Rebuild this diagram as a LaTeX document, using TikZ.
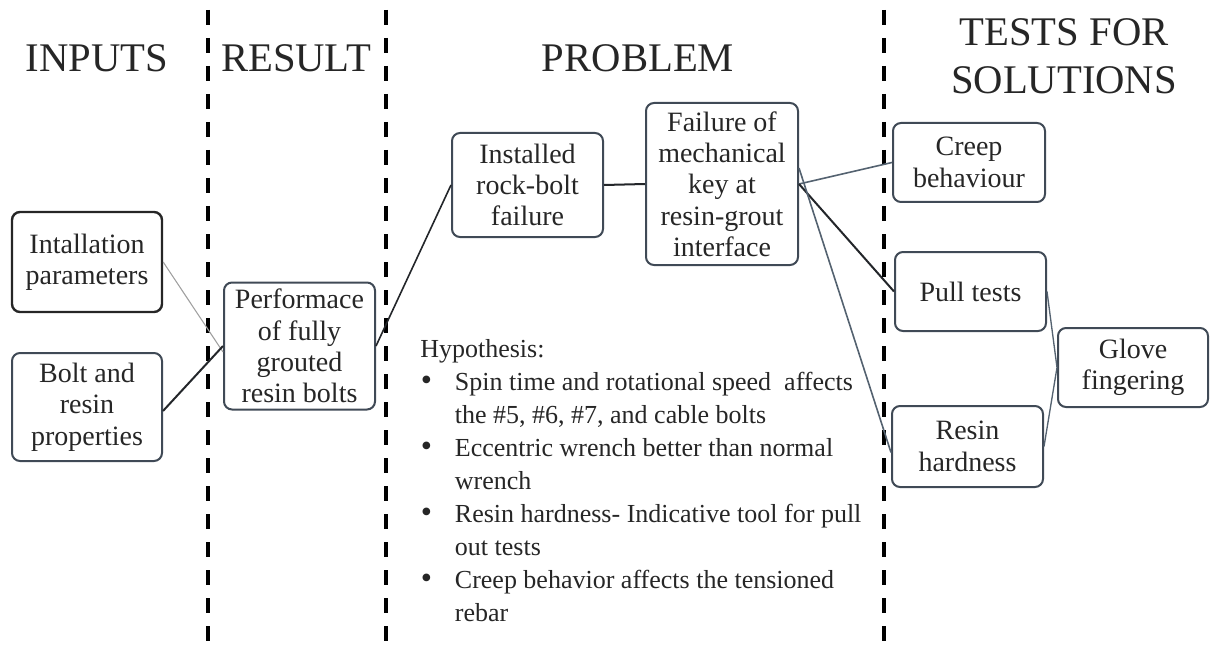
\documentclass[tikz,border=0pt]{standalone}
\usepackage{fontspec}
\setmainfont{Liberation Serif}
\usepackage{tikz}

\definecolor{boxline}{RGB}{64,74,86}
\definecolor{linkdark}{RGB}{35,38,42}
\definecolor{linkslate}{RGB}{84,98,112}
\newcommand{\hypbul}{\makebox[26pt][l]{\hspace{0.5pt}\raisebox{-0.5pt}{\fontsize{24}{24}\selectfont\textbullet}}}
\newcommand{\hypind}{\hspace*{26pt}}

\begin{document}
\begin{tikzpicture}[x=0.75pt,y=0.75pt,yscale=-1,xscale=1,
  stagebox/.style={draw=boxline, line width=1.5pt, rounded corners=6pt, align=center, inner sep=0pt, text=black!85, font=\fontsize{21}{23.5}\selectfont},
  header/.style={align=center, text=black!85, font=\fontsize{30.5}{36}\selectfont},
  divider/.style={line width=2.6pt, dash pattern=on 11.25pt off 9.75pt},
  linkthin/.style={draw=gray!75, line width=0.8pt},
  linkbold/.style={draw=linkdark, line width=1.5pt},
  linkmid/.style={draw=linkslate, line width=1.2pt}]
\useasboundingbox (0,0) rectangle (1210,649);

%Shape: Dividers
\draw [divider] (208,10) -- (208,649);
\draw [divider] (386,10) -- (386,649);
\draw [divider] (884,10) -- (884,649);

% Text Node
\node (hinputs) [header] at (97,58) {INPUTS};
% Text Node
\node (hresult) [header] at (296,58) {RESULT};
% Text Node
\node (hproblem) [header] at (638,58) {PROBLEM};
% Text Node
\node (htests) [header] at (1064,56) {TESTS FOR\\SOLUTIONS};

%Shape: Rounded Rect
\node (param) [stagebox, draw=black!85, line width=1.8pt, minimum width=112.5pt, minimum height=75pt] at (87,262) {Intallation\\parameters};
%Shape: Rounded Rect
\node (bolt) [stagebox, minimum width=112.5pt, minimum height=81pt] at (87,407) {Bolt and\\resin\\properties};
%Shape: Rounded Rect
\node (perf) [stagebox, minimum width=113.25pt, minimum height=95.25pt] at (299.5,346) {Performace\\of fully\\grouted\\resin bolts};
%Shape: Rounded Rect
\node (inst) [stagebox, minimum width=113.25pt, minimum height=78pt] at (527.5,185) {Installed\\rock-bolt\\failure};
%Shape: Rounded Rect
\node (fail) [stagebox, minimum width=114pt, minimum height=121.5pt] at (722,184) {Failure of\\mechanical\\key at\\resin-grout\\interface};
%Shape: Rounded Rect
\node (creep) [stagebox, minimum width=114pt, minimum height=59.25pt] at (969,162.5) {Creep\\behaviour};
%Shape: Rounded Rect
\node (pull) [stagebox, minimum width=113.25pt, minimum height=59.25pt] at (970.5,291.5) {Pull tests};
%Shape: Rounded Rect
\node (glove) [stagebox, minimum width=112.5pt, minimum height=59.25pt] at (1133,367.5) {Glove\\fingering};
%Shape: Rounded Rect
\node (resin) [stagebox, minimum width=113.25pt, minimum height=60.75pt] at (967.5,446.5) {Resin\\hardness};

%Straight Lines
\draw [linkthin] (param.east) -- ([yshift=4.5pt]perf.west);
\draw [linkbold] ([yshift=3pt]bolt.east) -- (perf.west);
\draw [linkbold, line width=1.2pt] (perf.east) -- (inst.west);
\draw [linkbold] (inst.east) -- (fail.west);
\draw [linkmid] (fail.east) -- (creep.west);
\draw [linkbold] (fail.east) -- (pull.west);
\draw [linkmid] ([yshift=-12pt]fail.east) -- ([yshift=4.5pt]resin.west);
\draw [linkmid, line width=1pt] (pull.east) -- (glove.west);
\draw [linkmid, line width=1pt] (resin.east) -- (glove.west);

% Text Node
\node (hyp) [anchor=north west, align=left, inner sep=0pt, text=black!85, font=\fontsize{19.5}{24.75}\selectfont] at (420,339) {Hypothesis:\\
\hypbul Spin time and rotational speed\ \ affects\\
\hypind the \#5, \#6, \#7, and cable bolts\\
\hypbul Eccentric wrench better than normal\\
\hypind wrench\\
\hypbul Resin hardness- Indicative tool for pull\\
\hypind out tests\\
\hypbul Creep behavior affects the tensioned\\
\hypind rebar};

\end{tikzpicture}
\end{document}
